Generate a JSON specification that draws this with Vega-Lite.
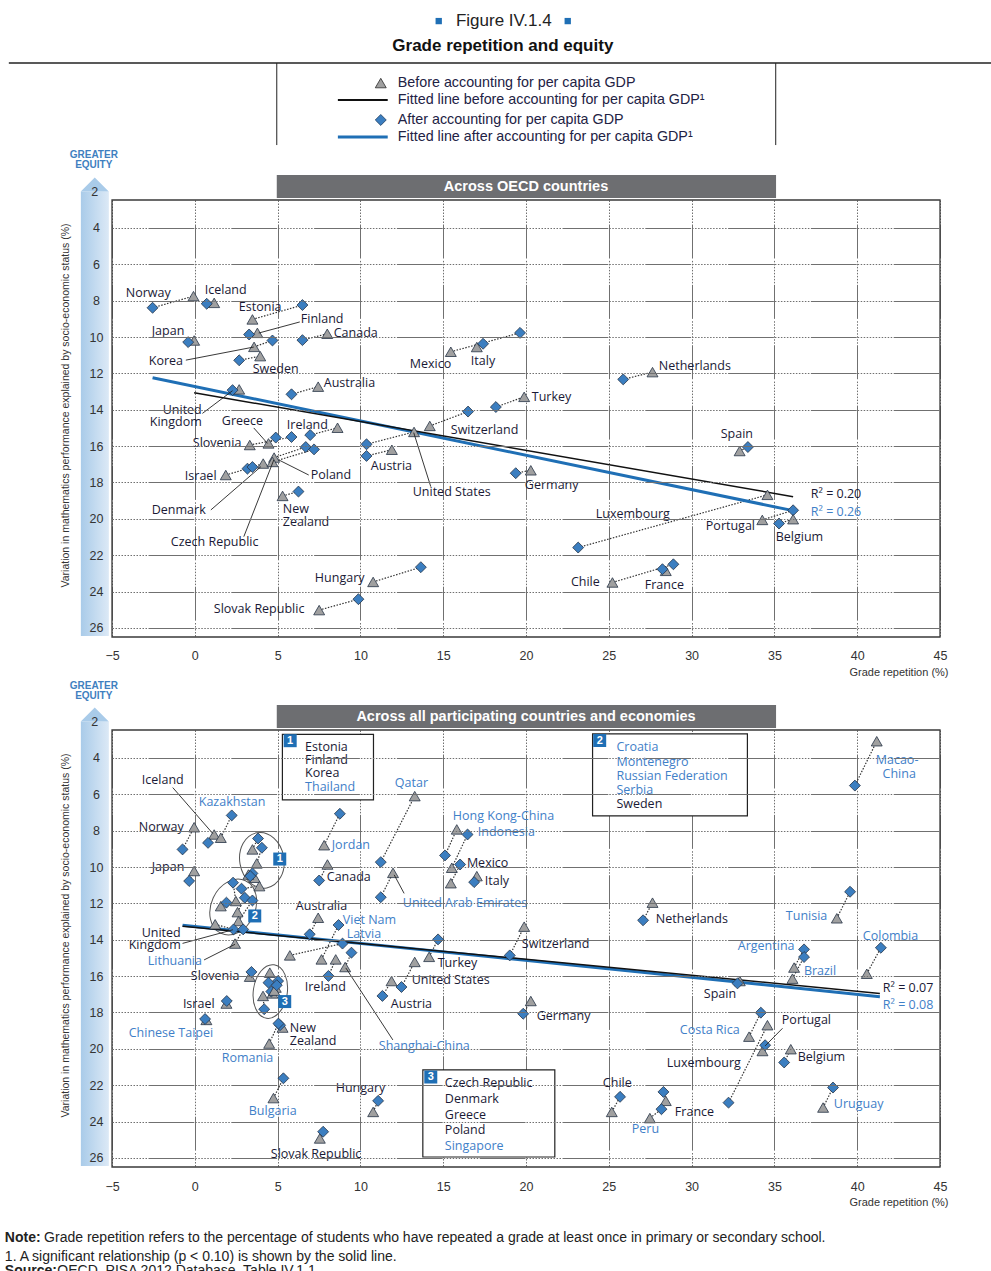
{
"$schema":"https://vega.github.io/schema/vega-lite/v6.json",
"width":991,"height":1271,"autosize":{"type":"none"},"padding":0,
"config":{"view":{"stroke":null},"font":"Liberation Sans"},
"datasets":{
"top_pts":[
{"c":"Norway","s":"Before","x":-0.08,"y":7.75},{"c":"Norway","s":"After","x":-2.55,"y":8.39},
{"c":"Iceland","s":"Before","x":1.17,"y":8.12},{"c":"Iceland","s":"After","x":0.72,"y":8.17},
{"c":"Estonia","s":"Before","x":3.48,"y":9.03},{"c":"Estonia","s":"After","x":6.5,"y":8.24},
{"c":"Finland","s":"Before","x":3.78,"y":9.77},{"c":"Finland","s":"After","x":3.28,"y":9.86},
{"c":"Japan","s":"Before","x":-0.04,"y":10.19},{"c":"Japan","s":"After","x":-0.4,"y":10.28},
{"c":"Canada","s":"Before","x":8.0,"y":9.82},{"c":"Canada","s":"After","x":6.5,"y":10.17},
{"c":"Korea","s":"Before","x":3.58,"y":10.54},{"c":"Korea","s":"After","x":4.69,"y":10.19},
{"c":"Sweden","s":"Before","x":3.95,"y":11.05},{"c":"Sweden","s":"After","x":2.68,"y":11.28},
{"c":"Australia","s":"Before","x":7.45,"y":12.73},{"c":"Australia","s":"After","x":5.84,"y":13.15},
{"c":"United Kingdom","s":"Before","x":2.68,"y":12.88},{"c":"United Kingdom","s":"After","x":2.28,"y":12.92},
{"c":"Ireland","s":"Before","x":8.62,"y":14.99},{"c":"Ireland","s":"After","x":6.97,"y":15.39},
{"c":"Greece","s":"Before","x":4.45,"y":15.85},{"c":"Greece","s":"After","x":4.89,"y":15.53},
{"c":"Slovenia","s":"Before","x":3.32,"y":15.94},{"c":"Slovenia","s":"After","x":5.84,"y":15.5},
{"c":"Poland","s":"Before","x":4.79,"y":16.63},{"c":"Poland","s":"After","x":6.7,"y":16.05},
{"c":"Israel","s":"Before","x":1.87,"y":17.59},{"c":"Israel","s":"After","x":3.18,"y":17.24},
{"c":"Denmark","s":"Before","x":4.13,"y":16.96},{"c":"Denmark","s":"After","x":3.48,"y":17.15},
{"c":"Czech Republic","s":"Before","x":4.69,"y":16.87},{"c":"Czech Republic","s":"After","x":7.2,"y":16.18},
{"c":"New Zealand","s":"Before","x":5.3,"y":18.74},{"c":"New Zealand","s":"After","x":6.26,"y":18.5},
{"c":"Hungary","s":"Before","x":10.77,"y":23.47},{"c":"Hungary","s":"After","x":13.65,"y":22.66},
{"c":"Slovak Republic","s":"Before","x":7.51,"y":25.02},{"c":"Slovak Republic","s":"After","x":9.88,"y":24.42},
{"c":"Austria","s":"Before","x":11.9,"y":16.2},{"c":"Austria","s":"After","x":10.37,"y":16.54},
{"c":"United States","s":"Before","x":13.24,"y":15.22},{"c":"United States","s":"After","x":10.37,"y":15.9},
{"c":"Mexico","s":"Before","x":15.46,"y":10.81},{"c":"Mexico","s":"After","x":19.64,"y":9.77},
{"c":"Italy","s":"Before","x":17.03,"y":10.55},{"c":"Italy","s":"After","x":17.41,"y":10.37},
{"c":"Netherlands","s":"Before","x":27.64,"y":11.93},{"c":"Netherlands","s":"After","x":25.87,"y":12.33},
{"c":"Turkey","s":"Before","x":19.89,"y":13.29},{"c":"Turkey","s":"After","x":18.18,"y":13.85},
{"c":"Switzerland","s":"Before","x":14.19,"y":14.89},{"c":"Switzerland","s":"After","x":16.5,"y":14.1},
{"c":"Germany","s":"Before","x":20.29,"y":17.33},{"c":"Germany","s":"After","x":19.38,"y":17.49},
{"c":"Spain","s":"Before","x":32.9,"y":16.27},{"c":"Spain","s":"After","x":33.4,"y":16.05},
{"c":"Luxembourg","s":"Before","x":34.58,"y":18.68},{"c":"Luxembourg","s":"After","x":23.15,"y":21.58},
{"c":"Portugal","s":"Before","x":34.27,"y":20.06},{"c":"Portugal","s":"After","x":36.13,"y":19.53},
{"c":"Belgium","s":"Before","x":36.13,"y":20.02},{"c":"Belgium","s":"After","x":35.28,"y":20.26},
{"c":"Chile","s":"Before","x":25.22,"y":23.5},{"c":"Chile","s":"After","x":28.9,"y":22.5},
{"c":"France","s":"Before","x":28.44,"y":22.86},{"c":"France","s":"After","x":28.24,"y":22.77}
],
"bot_pts":[
{"c":"Iceland","s":"Before","x":1.17,"y":8.21},{"c":"Iceland","s":"After","x":0.8,"y":8.67},
{"c":"Kazakhstan","s":"Before","x":1.57,"y":8.39},{"c":"Kazakhstan","s":"After","x":2.23,"y":7.16},
{"c":"Norway","s":"Before","x":-0.04,"y":7.81},{"c":"Norway","s":"After","x":-0.74,"y":9.03},
{"c":"Japan","s":"Before","x":-0.04,"y":10.22},{"c":"Japan","s":"After","x":-0.34,"y":10.77},
{"c":"Jordan","s":"Before","x":7.81,"y":8.8},{"c":"Jordan","s":"After","x":8.76,"y":7.07},
{"c":"Canada","s":"Before","x":8.01,"y":9.86},{"c":"Canada","s":"After","x":7.51,"y":10.74},
{"c":"Estonia","s":"Before","x":3.48,"y":9.03},{"c":"Estonia","s":"After","x":3.82,"y":8.43},
{"c":"Finland","s":"Before","x":3.74,"y":9.8},{"c":"Finland","s":"After","x":4.05,"y":8.94},
{"c":"Korea","s":"Before","x":3.62,"y":10.59},{"c":"Korea","s":"After","x":3.48,"y":10.35},
{"c":"Thailand","s":"Before","x":3.24,"y":10.41},{"c":"Thailand","s":"After","x":3.35,"y":10.5},
{"c":"Sweden","s":"Before","x":3.9,"y":11.05},{"c":"Sweden","s":"After","x":2.82,"y":11.19},
{"c":"Croatia","s":"Before","x":2.48,"y":11.87},{"c":"Croatia","s":"After","x":2.31,"y":10.86},
{"c":"Montenegro","s":"Before","x":1.57,"y":12.15},{"c":"Montenegro","s":"After","x":1.91,"y":11.96},
{"c":"Russian Federation","s":"Before","x":2.58,"y":12.48},{"c":"Russian Federation","s":"After","x":3.02,"y":11.69},
{"c":"Serbia","s":"Before","x":2.64,"y":12.97},{"c":"Serbia","s":"After","x":3.48,"y":11.84},
{"c":"United Kingdom","s":"Before","x":1.23,"y":13.15},{"c":"United Kingdom","s":"After","x":2.34,"y":13.43},
{"c":"Lithuania","s":"Before","x":2.43,"y":14.21},{"c":"Lithuania","s":"After","x":2.92,"y":13.43},
{"c":"Australia","s":"Before","x":7.45,"y":12.79},{"c":"Australia","s":"After","x":6.94,"y":13.7},
{"c":"Viet Nam","s":"Before","x":7.65,"y":15.08},{"c":"Viet Nam","s":"After","x":8.68,"y":13.19},
{"c":"Ireland","s":"Before","x":8.51,"y":15.08},{"c":"Ireland","s":"After","x":8.07,"y":15.99},
{"c":"Latvia","s":"Before","x":5.74,"y":14.86},{"c":"Latvia","s":"After","x":8.92,"y":14.21},
{"c":"Shanghai-China","s":"Before","x":9.08,"y":15.5},{"c":"Shanghai-China","s":"After","x":9.46,"y":14.71},
{"c":"Slovenia","s":"Before","x":3.32,"y":16.03},{"c":"Slovenia","s":"After","x":3.42,"y":15.77},
{"c":"Greece","s":"Before","x":4.53,"y":15.81},{"c":"Greece","s":"After","x":4.45,"y":16.36},
{"c":"Poland","s":"Before","x":4.89,"y":16.63},{"c":"Poland","s":"After","x":5.03,"y":16.27},
{"c":"Denmark","s":"Before","x":4.12,"y":17.09},{"c":"Denmark","s":"After","x":4.19,"y":17.82},
{"c":"Czech Republic","s":"Before","x":4.69,"y":16.95},{"c":"Czech Republic","s":"After","x":4.62,"y":16.85},
{"c":"Singapore","s":"Before","x":4.8,"y":16.8},{"c":"Singapore","s":"After","x":4.95,"y":16.5},
{"c":"Israel","s":"Before","x":1.91,"y":17.51},{"c":"Israel","s":"After","x":1.93,"y":17.37},
{"c":"Chinese Taipei","s":"Before","x":0.7,"y":18.41},{"c":"Chinese Taipei","s":"After","x":0.62,"y":18.36},
{"c":"New Zealand","s":"Before","x":5.3,"y":18.83},{"c":"New Zealand","s":"After","x":5.15,"y":18.7},
{"c":"Romania","s":"Before","x":4.49,"y":19.71},{"c":"Romania","s":"After","x":5.05,"y":18.61},
{"c":"Bulgaria","s":"Before","x":4.75,"y":22.71},{"c":"Bulgaria","s":"After","x":5.35,"y":21.62},
{"c":"Hungary","s":"Before","x":10.77,"y":23.47},{"c":"Hungary","s":"After","x":11.07,"y":22.86},
{"c":"Slovak Republic","s":"Before","x":7.55,"y":24.93},{"c":"Slovak Republic","s":"After","x":7.75,"y":24.56},
{"c":"Qatar","s":"Before","x":13.28,"y":6.1},{"c":"Qatar","s":"After","x":11.23,"y":9.73},
{"c":"United Arab Emirates","s":"Before","x":11.97,"y":10.32},{"c":"United Arab Emirates","s":"After","x":11.23,"y":11.66},
{"c":"Hong Kong-China","s":"Before","x":15.82,"y":7.93},{"c":"Hong Kong-China","s":"After","x":15.11,"y":9.36},
{"c":"Indonesia","s":"Before","x":15.52,"y":10.04},{"c":"Indonesia","s":"After","x":16.47,"y":8.21},
{"c":"Mexico","s":"Before","x":15.46,"y":10.89},{"c":"Mexico","s":"After","x":16.02,"y":9.86},
{"c":"Italy","s":"Before","x":17.03,"y":10.5},{"c":"Italy","s":"After","x":16.87,"y":10.83},
{"c":"Turkey","s":"Before","x":14.15,"y":14.94},{"c":"Turkey","s":"After","x":14.69,"y":13.98},
{"c":"Switzerland","s":"Before","x":19.89,"y":13.28},{"c":"Switzerland","s":"After","x":19.02,"y":14.86},
{"c":"United States","s":"Before","x":13.28,"y":15.22},{"c":"United States","s":"After","x":12.48,"y":16.6},
{"c":"Austria","s":"Before","x":11.88,"y":16.27},{"c":"Austria","s":"After","x":11.33,"y":17.09},
{"c":"Germany","s":"Before","x":20.29,"y":17.37},{"c":"Germany","s":"After","x":19.83,"y":18.07},
{"c":"Macao-China","s":"Before","x":41.18,"y":3.08},{"c":"Macao-China","s":"After","x":39.86,"y":5.52},
{"c":"Netherlands","s":"Before","x":27.64,"y":11.96},{"c":"Netherlands","s":"After","x":27.07,"y":12.93},
{"c":"Tunisia","s":"Before","x":38.77,"y":12.82},{"c":"Tunisia","s":"After","x":39.57,"y":11.36},
{"c":"Argentina","s":"Before","x":36.19,"y":15.53},{"c":"Argentina","s":"After","x":36.79,"y":14.53},
{"c":"Brazil","s":"Before","x":36.09,"y":16.14},{"c":"Brazil","s":"After","x":36.79,"y":14.95},
{"c":"Colombia","s":"Before","x":40.58,"y":15.87},{"c":"Colombia","s":"After","x":41.43,"y":14.44},
{"c":"Spain","s":"Before","x":32.91,"y":16.27},{"c":"Spain","s":"After","x":32.77,"y":16.4},
{"c":"Costa Rica","s":"Before","x":33.47,"y":19.33},{"c":"Costa Rica","s":"After","x":34.18,"y":18.01},
{"c":"Luxembourg","s":"Before","x":34.58,"y":18.7},{"c":"Luxembourg","s":"After","x":32.23,"y":22.96},
{"c":"Portugal","s":"Before","x":34.28,"y":20.12},{"c":"Portugal","s":"After","x":34.44,"y":19.8},
{"c":"Belgium","s":"Before","x":35.99,"y":20.02},{"c":"Belgium","s":"After","x":35.59,"y":20.75},
{"c":"Chile","s":"Before","x":25.18,"y":23.47},{"c":"Chile","s":"After","x":25.68,"y":22.64},
{"c":"France","s":"Before","x":28.44,"y":22.86},{"c":"France","s":"After","x":28.3,"y":22.37},
{"c":"Peru","s":"Before","x":27.48,"y":23.81},{"c":"Peru","s":"After","x":28.18,"y":23.32},
{"c":"Uruguay","s":"Before","x":37.94,"y":23.23},{"c":"Uruguay","s":"After","x":38.54,"y":22.13}
],
"top_fit":[{"k":"Before","x":-0.04,"y":13.06},{"k":"Before","x":36.13,"y":18.78},{"k":"After","x":-2.55,"y":12.24},{"k":"After","x":36.13,"y":19.55}],
"bot_fit":[{"k":"Before","x":-0.74,"y":13.26},{"k":"Before","x":41.37,"y":16.95},{"k":"After","x":-0.74,"y":13.2},{"k":"After","x":41.37,"y":17.13}],
"top_lead":[{"x":6.34,"y":9.17,"x2":3.86,"y2":9.78},{"x":-0.54,"y":11.27,"x2":3.56,"y2":10.55},{"x":0.46,"y":14.2,"x2":2.28,"y2":12.95},{"x":3.56,"y":15.0,"x2":4.39,"y2":15.85},{"x":6.88,"y":17.59,"x2":5.07,"y2":16.76},{"x":14.25,"y":18.23,"x2":13.22,"y2":15.26},{"x":0.97,"y":19.51,"x2":3.99,"y2":17.13},{"x":2.96,"y":20.98,"x2":4.77,"y2":16.76}],
"bot_lead":[{"x":-1.33,"y":5.63,"x2":1.09,"y2":8.16},{"x":-0.74,"y":14.2,"x2":2.3,"y2":13.45},{"x":0.56,"y":15.11,"x2":2.43,"y2":14.25},{"x":12.64,"y":11.45,"x2":12.04,"y2":10.43},{"x":35.49,"y":18.87,"x2":34.44,"y2":19.84},{"x":11.96,"y":19.51,"x2":9.12,"y2":15.55}],
"top_lab":[
{"t":"Norway","x":-4.17,"y":7.58,"g":"o"},{"t":"Iceland","x":0.6,"y":7.41,"g":"o"},{"t":"Estonia","x":2.66,"y":8.35,"g":"o"},{"t":"Finland","x":6.4,"y":9.01,"g":"o"},{"t":"Canada","x":8.39,"y":9.78,"g":"o"},{"t":"Japan","x":-2.6,"y":9.67,"g":"o"},{"t":"Korea","x":-2.78,"y":11.32,"g":"o"},{"t":"Sweden","x":3.5,"y":11.76,"g":"o"},{"t":"Australia","x":7.79,"y":12.53,"g":"o"},{"t":"Mexico","x":12.98,"y":11.48,"g":"o"},{"t":"Italy","x":16.67,"y":11.32,"g":"o"},{"t":"Netherlands","x":28.02,"y":11.59,"g":"o"},{"t":"Turkey","x":20.35,"y":13.3,"g":"o"},{"t":"Greece","x":1.63,"y":14.62,"g":"o"},{"t":"Ireland","x":5.56,"y":14.84,"g":"o"},{"t":"Switzerland","x":15.46,"y":15.11,"g":"o"},{"t":"Spain","x":31.76,"y":15.33,"g":"o"},{"t":"Slovenia","x":-0.12,"y":15.83,"g":"o"},{"t":"Israel","x":-0.6,"y":17.64,"g":"o"},{"t":"Poland","x":7.0,"y":17.59,"g":"o"},{"t":"Austria","x":10.63,"y":17.09,"g":"o"},{"t":"United States","x":13.16,"y":18.52,"g":"o"},{"t":"Germany","x":19.93,"y":18.14,"g":"o"},{"t":"Denmark","x":-2.6,"y":19.51,"g":"o"},{"t":"New\nZealand","x":5.31,"y":19.46,"g":"o"},{"t":"Luxembourg","x":24.21,"y":19.73,"g":"o"},{"t":"Portugal","x":30.86,"y":20.39,"g":"o"},{"t":"Belgium","x":35.08,"y":21.0,"g":"o"},{"t":"Czech Republic","x":-1.45,"y":21.27,"g":"o"},{"t":"Hungary","x":7.25,"y":23.25,"g":"o"},{"t":"Chile","x":22.71,"y":23.47,"g":"o"},{"t":"France","x":27.17,"y":23.64,"g":"o"},{"t":"Slovak Republic","x":1.15,"y":24.96,"g":"o"},{"t":"R² = 0.20","x":37.2,"y":18.63,"g":"o"},{"t":"R² = 0.26","x":37.2,"y":19.62,"g":"p"}
],
"top_lab_r":[{"t":"United\nKingdom","x":0.42,"y":13.99,"g":"o"}],
"bot_lab":[
{"t":"Iceland","x":-3.2,"y":5.21,"g":"o"},{"t":"Kazakhstan","x":0.24,"y":6.42,"g":"p"},{"t":"Norway","x":-3.38,"y":7.8,"g":"o"},{"t":"Japan","x":-2.6,"y":10.0,"g":"o"},{"t":"Qatar","x":12.08,"y":5.38,"g":"p"},{"t":"Hong Kong-China","x":15.58,"y":7.19,"g":"p"},{"t":"Indonesia","x":17.09,"y":8.07,"g":"p"},{"t":"Jordan","x":8.27,"y":8.79,"g":"p"},{"t":"Mexico","x":16.43,"y":9.78,"g":"o"},{"t":"Canada","x":7.97,"y":10.55,"g":"o"},{"t":"Italy","x":17.51,"y":10.77,"g":"o"},{"t":"United Arab Emirates","x":12.56,"y":11.98,"g":"p"},{"t":"Australia","x":6.1,"y":12.14,"g":"o"},{"t":"Netherlands","x":27.84,"y":12.86,"g":"o"},{"t":"Tunisia","x":35.69,"y":12.69,"g":"p"},{"t":"Viet Nam","x":8.94,"y":12.91,"g":"p"},{"t":"Latvia","x":9.18,"y":13.68,"g":"p"},{"t":"Colombia","x":40.34,"y":13.79,"g":"p"},{"t":"Argentina","x":32.79,"y":14.34,"g":"p"},{"t":"Switzerland","x":19.75,"y":14.23,"g":"o"},{"t":"Lithuania","x":-2.84,"y":15.17,"g":"p"},{"t":"Turkey","x":14.67,"y":15.28,"g":"o"},{"t":"Brazil","x":36.78,"y":15.72,"g":"p"},{"t":"Slovenia","x":-0.24,"y":15.99,"g":"o"},{"t":"United States","x":13.1,"y":16.21,"g":"o"},{"t":"Ireland","x":6.64,"y":16.6,"g":"o"},{"t":"Spain","x":30.74,"y":16.98,"g":"o"},{"t":"R² = 0.07","x":41.55,"y":16.65,"g":"o"},{"t":"R² = 0.08","x":41.55,"y":17.59,"g":"p"},{"t":"Israel","x":-0.72,"y":17.53,"g":"o"},{"t":"Austria","x":11.84,"y":17.53,"g":"o"},{"t":"Germany","x":20.65,"y":18.19,"g":"o"},{"t":"Portugal","x":35.45,"y":18.41,"g":"o"},{"t":"Chinese Taipei","x":-3.99,"y":19.13,"g":"p"},{"t":"New\nZealand","x":5.74,"y":18.85,"g":"o"},{"t":"Costa Rica","x":29.29,"y":18.96,"g":"p"},{"t":"Shanghai-China","x":11.11,"y":19.84,"g":"p"},{"t":"Romania","x":1.63,"y":20.5,"g":"p"},{"t":"Belgium","x":36.41,"y":20.45,"g":"o"},{"t":"Luxembourg","x":28.5,"y":20.78,"g":"o"},{"t":"Chile","x":24.64,"y":21.88,"g":"o"},{"t":"Hungary","x":8.51,"y":22.15,"g":"o"},{"t":"Uruguay","x":38.59,"y":23.03,"g":"p"},{"t":"Bulgaria","x":3.26,"y":23.42,"g":"p"},{"t":"France","x":28.99,"y":23.47,"g":"o"},{"t":"Peru","x":26.39,"y":24.41,"g":"p"},{"t":"Slovak Republic","x":4.59,"y":25.78,"g":"o"},{"t":"Macao-","x":41.12,"y":4.12,"g":"p"},{"t":"China","x":41.53,"y":4.87,"g":"p"},
{"t":"Estonia","x":6.66,"y":3.37,"g":"o"},{"t":"Finland","x":6.66,"y":4.1,"g":"o"},{"t":"Korea","x":6.66,"y":4.84,"g":"o"},{"t":"Thailand","x":6.66,"y":5.57,"g":"p"},
{"t":"Croatia","x":25.46,"y":3.41,"g":"p"},{"t":"Montenegro","x":25.46,"y":4.21,"g":"p"},{"t":"Russian Federation","x":25.46,"y":4.99,"g":"p"},{"t":"Serbia","x":25.46,"y":5.78,"g":"p"},{"t":"Sweden","x":25.46,"y":6.53,"g":"o"},
{"t":"Czech Republic","x":15.1,"y":21.88,"g":"o"},{"t":"Denmark","x":15.1,"y":22.76,"g":"o"},{"t":"Greece","x":15.1,"y":23.64,"g":"o"},{"t":"Poland","x":15.1,"y":24.46,"g":"o"},{"t":"Singapore","x":15.1,"y":25.34,"g":"p"}
],
"bot_lab_r":[{"t":"United\nKingdom","x":-0.85,"y":13.63,"g":"o"}],
"boxes":[{"x":5.29,"y":2.7,"x2":10.79,"y2":6.31},{"x":24.02,"y":2.68,"x2":33.37,"y2":7.19},{"x":13.77,"y":21.16,"x2":21.74,"y2":25.95}],
"badges":[{"t":"1","x":5.76,"y":3.05},{"t":"2","x":24.45,"y":3.04},{"t":"3","x":14.25,"y":21.55},{"t":"1","x":5.13,"y":9.56},{"t":"2","x":3.62,"y":12.69},{"t":"3","x":5.43,"y":17.4}],
"legend_txt":[{"t":"Before accounting for per capita GDP","x":12.26,"y":-3.97},{"t":"Fitted line before accounting for per capita GDP¹","x":12.26,"y":-3.04},{"t":"After accounting for per capita GDP","x":12.26,"y":-1.94},{"t":"Fitted line after accounting for per capita GDP¹","x":12.26,"y":-1.0}],
"title_sq":[{"x":14.73,"y":-7.38},{"x":22.52,"y":-7.38}],
"frame":[{"x":-5,"x2":45,"y":2.462,"y2":26.5}],
"band":[{"x":-6.88,"x2":-5.19,"y":2.0,"y2":26.45}],
"arrow":[{"x":-6.04,"y":2.0}],
"header":[{"x":4.95,"x2":35.1,"y":1.09,"y2":2.35}],
"top_eq":[{"t":"GREATER","x":-6.1,"y":-0.01},{"t":"EQUITY","x":-6.1,"y":0.54}],
"bot_eq":[{"t":"GREATER","x":-6.1,"y":0.04},{"t":"EQUITY","x":-6.1,"y":0.59}]
},
"layer":[
{
"encoding":{
"x":{"field":"x","type":"quantitative","scale":{"domain":[-5,45],"range":[112,940],"nice":false,"zero":false},
 "axis":{"orient":"top","offset":-637,"values":[-5,0,5,10,15,20,25,30,35,40,45],"grid":true,"gridColor":"#707070","gridWidth":1,"gridDash":[1.5,1.5,1.5,1.5,1.5,1.5,1.5,1.5,1.5,1.5,1.5,1.5,1.5,1.5,1.5,1.5,34,2.36],"domain":false,"ticks":false,"tickSize":0,"labelPadding":-18,"labelBaseline":"middle","labelFont":"Liberation Sans Narrow, Liberation Sans","labelFontSize":12.5,"labelColor":"#333","labelFlush":false,"labelOverlap":false,"title":"Grade repetition (%)","titleFont":"Liberation Sans Narrow, Liberation Sans","titleFontSize":11,"titleFontWeight":"normal","titleColor":"#333","titleX":948,"titleY":35,"titleAlign":"right","titleBaseline":"middle"}},
"y":{"field":"y","type":"quantitative","scale":{"domain":[2.462,26.5],"range":[200,637],"nice":false,"zero":false},
 "axis":{"orient":"left","offset":-110,"zindex":1,"values":[4,6,8,10,12,14,16,18,20,22,24,26],"grid":true,"gridColor":"#707070","gridWidth":1,"gridDash":[1.5,1.5,1.5,1.5,1.5,1.5,1.5,1.5,1.5,1.5,1.5,1.5,1.5,1.5,1.5,1.5,1.5,1.5,1.5,1.5,1.5,1.5,1.5,1.5,45.8,1],"domain":false,"ticks":false,"tickSize":0,"labelAlign":"center","labelBaseline":"middle","labelPadding":14,"labelFont":"Liberation Sans Narrow, Liberation Sans","labelFontSize":12.5,"labelColor":"#333","labelOverlap":false,"title":"Variation in mathematics performance explained by socio-economic status (%)","titleFont":"Liberation Sans Narrow, Liberation Sans","titleFontSize":10.5,"titleFontWeight":"normal","titleColor":"#333","titleX":-45,"titleY":405,"titleAngle":270,"titleAlign":"center","titleBaseline":"middle"}}
},
"layer":[
{"data":{"name":"frame"},"mark":{"type":"rect","fill":"transparent","stroke":"#3a3a3a","strokeWidth":1.3},"encoding":{"x2":{"field":"x2"},"y2":{"field":"y2"}}},
{"data":{"name":"band"},"mark":{"type":"rect","fill":{"gradient":"linear","x1":0,"y1":0,"x2":1,"y2":0,"stops":[{"offset":0,"color":"#a9cbe9"},{"offset":1,"color":"#dce9f6"}]}},"encoding":{"x2":{"field":"x2"},"y2":{"field":"y2"}}},
{"data":{"name":"arrow"},"mark":{"type":"point","shape":"M-1,0L0,-1L1,0Z","size":784,"filled":true,"fill":"#a9cbe9","strokeWidth":0,"opacity":1}},
{"data":{"name":"arrow"},"mark":{"type":"text","text":"2","font":"Liberation Sans Narrow, Liberation Sans","fontSize":12.5,"color":"#333","baseline":"middle"}},
{"data":{"name":"top_eq"},"mark":{"type":"text","font":"Liberation Sans Narrow, Liberation Sans","fontSize":10,"fontWeight":"bold","color":"#3f7fc0","baseline":"middle"},"encoding":{"text":{"field":"t"}}},
{"data":{"name":"header"},"mark":{"type":"rect","fill":"#6d6e71"},"encoding":{"x2":{"field":"x2"},"y2":{"field":"y2"}}},
{"data":{"values":[{"x":20.0,"y":1.72}]},"mark":{"type":"text","text":"Across OECD countries","font":"Liberation Sans","fontSize":14.5,"fontWeight":"bold","color":"white","baseline":"middle"}},
{"data":{"name":"title_sq"},"mark":{"type":"point","shape":"square","size":40,"filled":true,"fill":"#1f6fb5","strokeWidth":0,"opacity":1}},
{"data":{"values":[{"x":18.66,"y":-7.38}]},"mark":{"type":"text","text":"Figure IV.1.4","font":"Liberation Sans Narrow, Liberation Sans","fontSize":17,"color":"#222","baseline":"middle"}},
{"data":{"values":[{"x":18.6,"y":-6.01}]},"mark":{"type":"text","text":"Grade repetition and equity","font":"Liberation Sans","fontSize":17,"fontWeight":"bold","color":"#111","baseline":"middle"}},
{"data":{"values":[{"x":-11.23,"x2":48.2,"y":-5.07}]},"mark":{"type":"rule","color":"#222","strokeWidth":1.6},"encoding":{"x2":{"field":"x2"}}},
{"data":{"values":[{"x":4.95,"y":-5.07,"y2":-0.56},{"x":35.08,"y":-5.07,"y2":-0.56}]},"mark":{"type":"rule","color":"#222","strokeWidth":1},"encoding":{"y2":{"field":"y2"}}},
{"data":{"values":[{"x":8.64,"x2":11.65,"y":-3.04}]},"mark":{"type":"rule","color":"#111","strokeWidth":2},"encoding":{"x2":{"field":"x2"}}},
{"data":{"values":[{"x":8.64,"x2":11.65,"y":-1.0}]},"mark":{"type":"rule","color":"#1f6fb5","strokeWidth":3},"encoding":{"x2":{"field":"x2"}}},
{"data":{"values":[{"x":11.23,"y":-3.97}]},"mark":{"type":"point","shape":"triangle-up","size":120,"filled":true,"fill":"#a0a0a0","stroke":"#2b2b2b","strokeWidth":0.8,"opacity":1}},
{"data":{"values":[{"x":11.23,"y":-1.94}]},"mark":{"type":"point","shape":"diamond","size":120,"filled":true,"fill":"#3b7ec0","stroke":"#1d3c5e","strokeWidth":0.8,"opacity":1}},
{"data":{"name":"legend_txt"},"mark":{"type":"text","align":"left","baseline":"middle","font":"Liberation Sans Narrow, Liberation Sans","fontSize":14.3,"color":"#222244"},"encoding":{"text":{"field":"t"}}},
{"data":{"name":"top_pts"},"mark":{"type":"line","strokeDash":[1.5,1.5],"strokeWidth":1.2,"color":"#333"},"encoding":{"detail":{"field":"c"}}},
{"data":{"name":"top_fit"},"transform":[{"filter":"datum.k == 'After'"}],"mark":{"type":"line","color":"#1f6fb5","strokeWidth":3}},
{"data":{"name":"top_fit"},"transform":[{"filter":"datum.k == 'Before'"}],"mark":{"type":"line","color":"#111","strokeWidth":1.5}},
{"data":{"name":"top_pts"},"mark":{"type":"point","filled":true,"size":120,"stroke":"#263446","strokeWidth":0.8,"opacity":1},"encoding":{"shape":{"field":"s","type":"nominal","scale":{"domain":["Before","After"],"range":["triangle-up","diamond"]},"legend":null},"fill":{"field":"s","type":"nominal","scale":{"domain":["Before","After"],"range":["#a0a0a0","#3b7ec0"]},"legend":null}}},
{"data":{"name":"top_lead"},"mark":{"type":"rule","color":"#222","strokeWidth":0.9},"encoding":{"x2":{"field":"x2"},"y2":{"field":"y2"}}},
{"data":{"name":"top_lab"},"mark":{"type":"text","align":"left","baseline":"middle","font":"Open Sans","fontSize":12.5,"lineBreak":"\n","lineHeight":12.5},"encoding":{"text":{"field":"t"},"color":{"field":"g","type":"nominal","scale":{"domain":["o","p"],"range":["#1a1a36","#3f80c8"]},"legend":null}}},
{"data":{"name":"top_lab_r"},"mark":{"type":"text","align":"right","baseline":"middle","font":"Open Sans","fontSize":12.5,"lineBreak":"\n","lineHeight":12.5},"encoding":{"text":{"field":"t"},"color":{"field":"g","type":"nominal","scale":{"domain":["o","p"],"range":["#1a1a36","#3f80c8"]},"legend":null}}}
]
},
{
"encoding":{
"x":{"field":"x","type":"quantitative","scale":{"domain":[-5,45],"range":[112,940],"nice":false,"zero":false},
 "axis":{"orient":"top","offset":-1167,"values":[-5,0,5,10,15,20,25,30,35,40,45],"grid":true,"gridColor":"#707070","gridWidth":1,"gridDash":[1.5,1.5,1.5,1.5,1.5,1.5,1.5,1.5,1.5,1.5,1.5,1.5,1.5,1.5,1.5,1.5,34,2.36],"domain":false,"ticks":false,"tickSize":0,"labelPadding":-19,"labelBaseline":"middle","labelFont":"Liberation Sans Narrow, Liberation Sans","labelFontSize":12.5,"labelColor":"#333","labelFlush":false,"labelOverlap":false,"title":"Grade repetition (%)","titleFont":"Liberation Sans Narrow, Liberation Sans","titleFontSize":11,"titleFontWeight":"normal","titleColor":"#333","titleX":948,"titleY":35,"titleAlign":"right","titleBaseline":"middle"}},
"y":{"field":"y","type":"quantitative","scale":{"domain":[2.462,26.5],"range":[730,1167],"nice":false,"zero":false},
 "axis":{"orient":"left","offset":-110,"zindex":1,"values":[4,6,8,10,12,14,16,18,20,22,24,26],"grid":true,"gridColor":"#707070","gridWidth":1,"gridDash":[1.5,1.5,1.5,1.5,1.5,1.5,1.5,1.5,1.5,1.5,1.5,1.5,1.5,1.5,1.5,1.5,1.5,1.5,1.5,1.5,1.5,1.5,1.5,1.5,45.8,1],"domain":false,"ticks":false,"tickSize":0,"labelAlign":"center","labelBaseline":"middle","labelPadding":14,"labelFont":"Liberation Sans Narrow, Liberation Sans","labelFontSize":12.5,"labelColor":"#333","labelOverlap":false,"title":"Variation in mathematics performance explained by socio-economic status (%)","titleFont":"Liberation Sans Narrow, Liberation Sans","titleFontSize":10.5,"titleFontWeight":"normal","titleColor":"#333","titleX":-45,"titleY":935,"titleAngle":270,"titleAlign":"center","titleBaseline":"middle"}}
},
"layer":[
{"data":{"name":"frame"},"mark":{"type":"rect","fill":"transparent","stroke":"#3a3a3a","strokeWidth":1.3},"encoding":{"x2":{"field":"x2"},"y2":{"field":"y2"}}},
{"data":{"name":"band"},"mark":{"type":"rect","fill":{"gradient":"linear","x1":0,"y1":0,"x2":1,"y2":0,"stops":[{"offset":0,"color":"#a9cbe9"},{"offset":1,"color":"#dce9f6"}]}},"encoding":{"x2":{"field":"x2"},"y2":{"field":"y2"}}},
{"data":{"name":"arrow"},"mark":{"type":"point","shape":"M-1,0L0,-1L1,0Z","size":784,"filled":true,"fill":"#a9cbe9","strokeWidth":0,"opacity":1}},
{"data":{"name":"arrow"},"mark":{"type":"text","text":"2","font":"Liberation Sans Narrow, Liberation Sans","fontSize":12.5,"color":"#333","baseline":"middle"}},
{"data":{"name":"bot_eq"},"mark":{"type":"text","font":"Liberation Sans Narrow, Liberation Sans","fontSize":10,"fontWeight":"bold","color":"#3f7fc0","baseline":"middle"},"encoding":{"text":{"field":"t"}}},
{"data":{"name":"header"},"mark":{"type":"rect","fill":"#6d6e71"},"encoding":{"x2":{"field":"x2"},"y2":{"field":"y2"}}},
{"data":{"values":[{"x":20.0,"y":1.72}]},"mark":{"type":"text","text":"Across all participating countries and economies","font":"Liberation Sans","fontSize":14.5,"fontWeight":"bold","color":"white","baseline":"middle"}},
{"data":{"name":"boxes"},"mark":{"type":"rect","fill":"white","stroke":"#222","strokeWidth":1.2},"encoding":{"x2":{"field":"x2"},"y2":{"field":"y2"}}},
{"data":{"values":[{"x":4.05,"y":9.63}]},"mark":{"type":"point","shape":"M0,-1A0.79,1,0,1,1,0,1A0.79,1,0,1,1,0,-1Z","size":3136,"angle":-10,"filled":false,"stroke":"#555","strokeWidth":1,"opacity":1}},
{"data":{"values":[{"x":2.32,"y":12.2}]},"mark":{"type":"point","shape":"M0,-1A0.76,1,0,1,1,0,1A0.76,1,0,1,1,0,-1Z","size":3364,"angle":25,"filled":false,"stroke":"#555","strokeWidth":1,"opacity":1}},
{"data":{"values":[{"x":4.56,"y":16.85}]},"mark":{"type":"point","shape":"M0,-1A0.63,1,0,1,1,0,1A0.63,1,0,1,1,0,-1Z","size":2916,"angle":8,"filled":false,"stroke":"#555","strokeWidth":1,"opacity":1}},
{"data":{"name":"bot_pts"},"mark":{"type":"line","strokeDash":[1.5,1.5],"strokeWidth":1.2,"color":"#333"},"encoding":{"detail":{"field":"c"}}},
{"data":{"name":"bot_fit"},"transform":[{"filter":"datum.k == 'After'"}],"mark":{"type":"line","color":"#1f6fb5","strokeWidth":3}},
{"data":{"name":"bot_fit"},"transform":[{"filter":"datum.k == 'Before'"}],"mark":{"type":"line","color":"#111","strokeWidth":1.5}},
{"data":{"name":"bot_pts"},"mark":{"type":"point","filled":true,"size":120,"stroke":"#263446","strokeWidth":0.8,"opacity":1},"encoding":{"shape":{"field":"s","type":"nominal","scale":{"domain":["Before","After"],"range":["triangle-up","diamond"]},"legend":null},"fill":{"field":"s","type":"nominal","scale":{"domain":["Before","After"],"range":["#a0a0a0","#3b7ec0"]},"legend":null}}},
{"data":{"name":"bot_lead"},"mark":{"type":"rule","color":"#222","strokeWidth":0.9},"encoding":{"x2":{"field":"x2"},"y2":{"field":"y2"}}},
{"data":{"name":"badges"},"mark":{"type":"point","shape":"square","size":169,"filled":true,"fill":"#1f6fb5","strokeWidth":0,"opacity":1}},
{"data":{"name":"badges"},"mark":{"type":"text","font":"Liberation Sans","fontSize":11,"fontWeight":"bold","color":"white","baseline":"middle"},"encoding":{"text":{"field":"t"}}},
{"data":{"name":"bot_lab"},"mark":{"type":"text","align":"left","baseline":"middle","font":"Open Sans","fontSize":12.5,"lineBreak":"\n","lineHeight":13},"encoding":{"text":{"field":"t"},"color":{"field":"g","type":"nominal","scale":{"domain":["o","p"],"range":["#1a1a36","#3f80c8"]},"legend":null}}},
{"data":{"name":"bot_lab_r"},"mark":{"type":"text","align":"right","baseline":"middle","font":"Open Sans","fontSize":12.5,"lineBreak":"\n","lineHeight":11.5},"encoding":{"text":{"field":"t"},"color":{"field":"g","type":"nominal","scale":{"domain":["o","p"],"range":["#1a1a36","#3f80c8"]},"legend":null}}},
{"data":{"values":[{"t":"Note:","x":-11.47,"y":30.42},{"t":"Source:","x":-11.47,"y":32.2}]},"mark":{"type":"text","align":"left","baseline":"middle","font":"Liberation Sans Narrow, Liberation Sans","fontSize":14,"fontWeight":"bold","color":"#222"},"encoding":{"text":{"field":"t"}}},
{"data":{"values":[{"t":"Grade repetition refers to the percentage of students who have repeated a grade at least once in primary or secondary school.","x":-9.1,"y":30.42},{"t":"1. A significant relationship (p < 0.10) is shown by the solid line.","x":-11.47,"y":31.43},{"t":"OECD, PISA 2012 Database, Table IV.1.1.","x":-8.3,"y":32.2}]},"mark":{"type":"text","align":"left","baseline":"middle","font":"Liberation Sans Narrow, Liberation Sans","fontSize":14,"color":"#222"},"encoding":{"text":{"field":"t"}}}
]
}
],
"resolve":{"scale":{"x":"independent","y":"independent"},"axis":{"x":"independent","y":"independent"}}
}
